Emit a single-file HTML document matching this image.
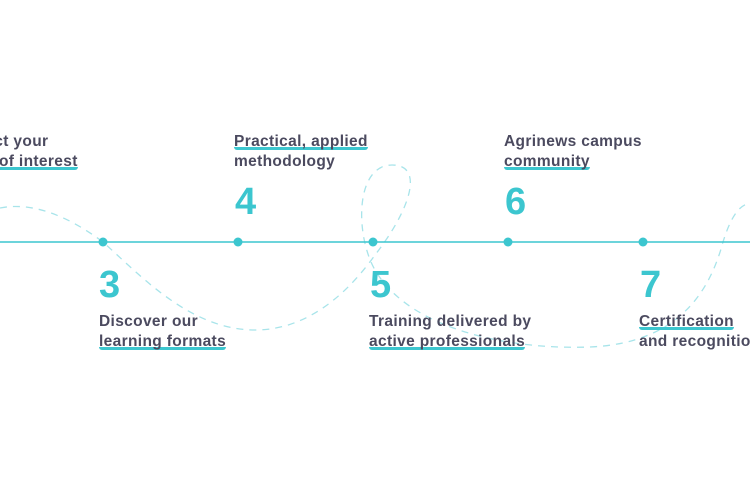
<!DOCTYPE html>
<html><head><style>
html,body{margin:0;padding:0;background:#fff;}
body{width:750px;height:500px;position:relative;overflow:hidden;font-family:"Liberation Sans",sans-serif;}
#w{position:absolute;left:0;top:0;width:750px;height:500px;overflow:hidden}
.t{position:absolute;font-size:15.5px;font-weight:bold;color:#4b4a5f;line-height:20px;white-space:nowrap;letter-spacing:0.35px}
.u{background:linear-gradient(to bottom,transparent 14px,#3cc6cf 14px,#3cc6cf 19px,transparent 19px);border-radius:3px}
.n{position:absolute;font-size:38px;font-weight:bold;color:#3cc6cf;line-height:40px;font-family:"Liberation Sans Narrow","Liberation Sans",sans-serif;}
</style></head><body><div id="w">
<svg width="750" height="500" style="position:absolute;left:0;top:0">
<path d="M0,208 C40,200 80,225 103,242 C140,275 190,330 255,330 C310,330 350,290 375,255 C410,210 425,165 392,165 C355,165 355,235 375,270 C410,330 510,350 590,347 C680,343 710,290 723,242 C733,210 742,205 750,203" fill="none" stroke="#a8e4ea" stroke-width="1.3" stroke-dasharray="7,6"/>
<line x1="0" y1="242" x2="750" y2="242" stroke="#3cc6cf" stroke-width="1.5"/>
<g fill="#3cc6cf"><circle cx="103" cy="242" r="4.5"/><circle cx="238" cy="242" r="4.5"/><circle cx="373" cy="242" r="4.5"/><circle cx="508" cy="242" r="4.5"/><circle cx="643" cy="242" r="4.5"/></g>
</svg>
<div class="t" style="left:-39px;top:132px">Select your<br><span class="u">area of interest</span></div>
<div class="t" style="left:234px;top:132px"><span class="u">Practical, applied</span><br>methodology</div>
<div class="t" style="left:504px;top:132px">Agrinews campus<br><span class="u">community</span></div>
<div class="t" style="left:99px;top:312px">Discover our<br><span class="u">learning formats</span></div>
<div class="t" style="left:369px;top:312px">Training delivered by<br><span class="u">active professionals</span></div>
<div class="t" style="left:639px;top:312px"><span class="u">Certification</span><br>and recognition</div>
<div class="n" style="left:235px;top:182px">4</div>
<div class="n" style="left:505px;top:182px">6</div>
<div class="n" style="left:99px;top:265px">3</div>
<div class="n" style="left:370px;top:265px">5</div>
<div class="n" style="left:640px;top:265px">7</div>
</div></body></html>
